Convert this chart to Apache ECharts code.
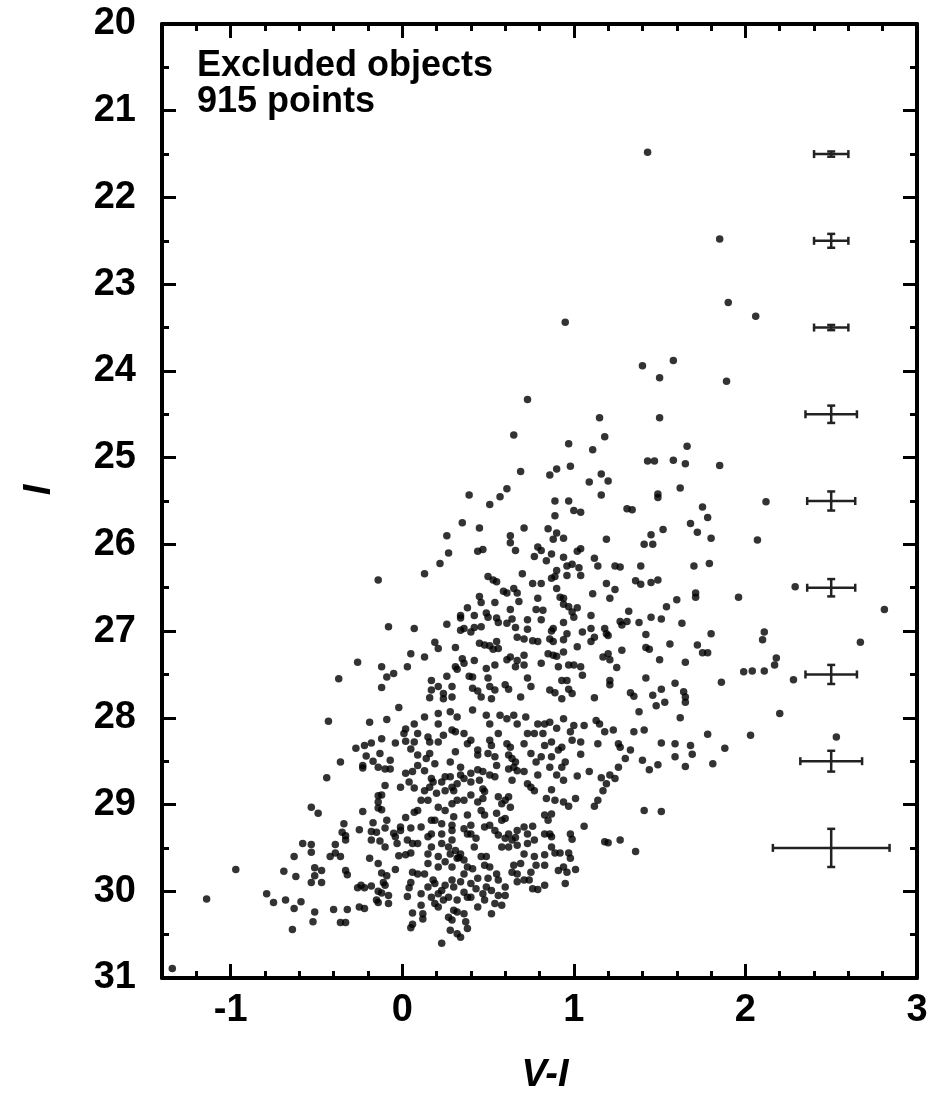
<!DOCTYPE html>
<html>
<head>
<meta charset="utf-8">
<script src="https://cdn.jsdelivr.net/npm/echarts@6.0.0/dist/echarts.min.js"></script>
<style>
html,body{margin:0;padding:0;background:#fff;}
#chart{width:950px;height:1101px;}
</style>
</head>
<body>
<div id="chart"></div>
<script>
// ---- axis ticks ----
const xMajorTicks = [-1, 0, 1, 2, 3];
const xMinorTicks = [-1.2, -0.8, -0.6, -0.4, -0.2, 0.2, 0.4, 0.6, 0.8, 1.2, 1.4, 1.6, 1.8, 2.2, 2.4, 2.6, 2.8];
const yMajorTicks = [20, 21, 22, 23, 24, 25, 26, 27, 28, 29, 30, 31];
const yMinorTicks = [20.5, 21.5, 22.5, 23.5, 24.5, 25.5, 26.5, 27.5, 28.5, 29.5, 30.5];

// ---- annotation ----
const noteLines = ['Excluded objects', '915 points'];
const xTitle = 'V-I';
const yTitle = 'I';

// ---- error bars (V-I, I, xerr, yerr) ----
const ebX = [2.5, 2.5, 2.5, 2.5, 2.5, 2.5, 2.5, 2.5, 2.5];
const ebY = [21.5, 22.5, 23.5, 24.5, 25.5, 26.5, 27.5, 28.5, 29.5];
const ebXErr = [0.10, 0.10, 0.10, 0.15, 0.14, 0.14, 0.15, 0.18, 0.34];
const ebYErr = [0.03, 0.08, 0.03, 0.10, 0.11, 0.10, 0.11, 0.12, 0.22];

// ---- points [V-I, I] ----
const ptsTop = [[1.43,21.48],[0.95,23.44],[1.40,23.94],[1.58,23.88],[1.50,24.08],[0.73,24.33],[1.15,24.54],[1.50,24.54],[1.85,22.48],[1.90,23.21],[2.06,23.37],[1.89,24.12]];

const ptsRight = [[1.66,24.87],[1.65,25.07],[1.85,25.09],[1.62,25.35],[2.12,25.51],[1.75,25.57],[1.78,25.69],[1.68,25.76],[1.72,25.86],[1.80,25.93],[2.07,25.95],[1.70,26.25],[1.79,26.22],[2.29,26.49],[1.71,26.56],[1.71,26.61],[1.96,26.61],[2.81,26.75],[1.63,26.91],[1.80,27.03],[2.11,27.01],[2.10,27.10],[2.67,27.13],[1.72,27.16],[1.75,27.25],[1.78,27.25],[2.18,27.31],[2.17,27.39],[1.65,27.36],[1.99,27.47],[2.04,27.46],[2.11,27.46],[2.28,27.56],[1.86,27.59],[1.64,27.70],[1.65,27.76],
[1.65,27.82],[1.62,28.00],[2.20,27.95],[1.78,28.19],[2.03,28.20],[2.53,28.22],[1.68,28.32],[1.69,28.42],[1.88,28.35],[1.65,28.56],[1.81,28.53]];

const ptsLeft = [[-0.14,26.41],[-0.08,26.95],[0.07,26.97],[0.05,27.26],[-0.26,27.36],[-0.12,27.41],[0.03,27.41],[-0.05,27.49],[-0.09,27.53],[-0.37,27.55],[-0.12,27.65]];

const ptsLowLeft = [[-0.02,27.88],[-0.43,28.04],[-0.19,28.05],[-0.09,28.02],[0.07,28.07],[0.02,28.13],[0.01,28.18],[-0.12,28.24],[-0.04,28.29],[0.02,28.27],[0.07,28.28],
[-0.27,28.35],[-0.22,28.32],[-0.18,28.29],[0.05,28.36],[-0.36,28.51],[-0.21,28.44],[-0.13,28.41],[-0.17,28.50],[-0.07,28.49],[-0.23,28.55],[-0.23,28.58],[-0.14,28.57],[-0.10,28.59],[-0.07,28.59],[-0.44,28.69],[0.02,28.64],[0.06,28.62],[0.04,28.74],[-0.01,28.80],[0.07,28.81],[-0.10,28.78],[-0.14,28.90],[-0.12,28.89],[-0.14,28.97],[-0.14,29.04],[-0.12,29.06],[-0.53,29.03],[-0.49,29.10],[-0.23,29.08],[0.02,29.15],[0.07,29.09],[-0.34,29.22],[-0.25,29.29],[-0.17,29.21],[-0.09,29.18],[-0.01,29.26],[-0.01,29.30],[0.05,29.27],[-0.35,29.32],[-0.33,29.36],[-0.18,29.31],[-0.15,29.32],[-0.10,29.27],[-0.05,29.33],[-0.04,29.37],[-0.18,29.41],[-0.33,29.41],[-0.13,29.42],[-0.58,29.45],[-0.53,29.46],[-0.53,29.55],[-0.39,29.46],[-0.10,29.49],[-0.03,29.45],[0.03,29.41],[0.06,29.45],[-0.63,29.60],[-0.42,29.60],[-0.39,29.56],[-0.36,29.60],[-0.19,29.62],[-0.02,29.59],[0.02,29.58],[0.05,29.56],[-0.14,29.68],[-0.97,29.75],[-0.69,29.77],[-0.51,29.73],[-0.47,29.76],[-0.62,29.83],[-0.51,29.82],[-0.33,29.76],[-0.32,29.81],[-0.12,29.79],[-0.09,29.82],[-0.04,29.75],[0.06,29.78],[-0.53,29.90],[-0.47,29.90],[-0.26,29.96],[-0.24,29.93],[-0.22,29.96],[-0.18,29.94],[-0.11,29.90],[-0.10,29.93],[0.05,29.90],[0.04,29.96],[-0.79,30.03],[-1.14,30.09],[-0.75,30.13],[-0.68,30.10],[-0.59,30.12],[-0.63,30.20],[-0.14,30.00],[-0.12,30.02],[-0.08,30.05],[-0.15,30.10],[-0.14,30.13],[-0.08,30.14],[0.03,30.06],[-0.51,30.24],[-0.40,30.21],[-0.32,30.21],[-0.25,30.18],[-0.22,30.20],[-0.52,30.35],[-0.36,30.36],[-0.33,30.36],[0.06,30.25],[0.06,30.38],[0.05,30.42],[-0.64,30.44],[-1.34,30.89]];

const ptsUpperCore = [[0.65,24.74],[1.18,24.76],[0.97,24.84],[1.11,24.91],[1.43,25.04],[1.47,25.04],[1.58,25.03],[0.98,25.10],[0.90,25.13],[0.86,25.20],[0.69,25.16],[1.16,25.19],[1.20,25.27],[1.09,25.28],[0.39,25.43],[0.57,25.45],[0.61,25.36],[0.51,25.54],[1.16,25.43],[1.49,25.42],[1.49,25.46],[0.89,25.50],[0.97,25.50],[1.00,25.61],[1.04,25.63],[1.31,25.59],[1.34,25.60],[0.89,25.67],[0.35,25.75],[0.45,25.81],[0.71,25.81],[0.85,25.82],[0.26,25.90],[0.63,25.90],[0.63,25.98],[0.90,25.87],[0.88,25.94],[0.94,25.93],[1.19,25.94],[1.52,25.83],[1.45,25.89],[1.41,26.00],[1.46,26.00],[0.44,26.08],[0.47,26.06],[0.66,26.07],[0.27,26.10],[0.79,26.03],[0.81,26.07],[0.77,26.14],[0.87,26.11],[0.84,26.19],[0.94,26.15],[1.02,26.08],[1.04,26.05],[1.12,26.16],[1.14,26.25],[0.96,26.25],[0.99,26.23],[1.03,26.27],[0.90,26.30],[1.24,26.25],[1.27,26.26],[1.39,26.25],[0.22,26.22],[0.13,26.34],[0.70,26.34],[0.96,26.36],[1.04,26.36],[0.87,26.39],[0.89,26.37],[0.50,26.37],[0.53,26.41],[0.55,26.43],[0.76,26.45],[0.81,26.45],[0.90,26.51],[1.19,26.45],[1.24,26.52],[1.36,26.42],[1.39,26.46],[1.45,26.44],[1.49,26.41],[0.59,26.54],[0.61,26.56],[0.65,26.51],[0.67,26.56],[0.45,26.60],[0.46,26.67],[1.11,26.57],[0.92,26.61],[0.94,26.62],[0.79,26.62],[1.21,26.62],[0.68,26.66],[0.54,26.67],[0.38,26.73],[0.94,26.69],[0.97,26.72],[1.02,26.73],[1.54,26.72],[1.60,26.64],[0.63,26.75],[0.78,26.75],[0.82,26.76],[0.99,26.78],[1.00,26.84],[0.34,26.82],[0.34,26.85],[0.42,26.82],[0.49,26.79],[0.50,26.84],[0.55,26.85],[0.56,26.90],[1.32,26.77],[1.45,26.84],[1.51,26.86],[1.10,26.82],[0.61,26.91],[0.64,26.86],[0.73,26.87],[0.81,26.87],[0.94,26.90],[1.27,26.89],[1.28,26.93],[1.31,26.89],[1.38,26.90],[0.26,26.92],[0.34,26.99],[0.36,26.97],[0.40,27.01],[0.42,26.96],[0.46,26.95],[0.66,26.96],[0.73,26.98],[0.87,27.00],[0.88,26.97],[0.96,27.03],[1.05,27.01],[1.10,26.97],[1.18,26.97],[1.19,27.03],[0.67,27.07],[0.71,27.09],[0.76,27.11],[0.79,27.12],[0.86,27.09],[0.88,27.12],[0.94,27.10],[1.12,27.07],[1.10,27.12],[1.20,27.05],[1.42,27.04],[1.56,27.15],[0.19,27.13],[0.21,27.20],[0.31,27.19],[0.45,27.14],[0.48,27.16],[0.51,27.17],[0.55,27.12],[0.56,27.20],[0.53,27.21],[1.02,27.18],[1.28,27.22],[1.42,27.19],[1.44,27.21],[0.13,27.30],[0.35,27.32],[0.36,27.37],[0.42,27.34],[0.49,27.43],[0.54,27.39],[0.61,27.33],[0.63,27.30],[0.67,27.34],[0.71,27.28],[0.66,27.41],[0.71,27.39],[0.81,27.37],[0.85,27.26],[0.88,27.28],[0.90,27.29],[0.94,27.24],[0.91,27.41],[0.97,27.39],[1.00,27.39],[1.04,27.41],[1.17,27.30],[1.21,27.33],[1.20,27.26],[1.25,27.42],[1.50,27.33],[0.31,27.41],[0.32,27.44],[0.39,27.52],[0.41,27.53],[0.50,27.54],[0.26,27.52],[0.17,27.57],[0.73,27.54],[0.93,27.57],[0.96,27.57],[1.05,27.51],[1.21,27.57],[1.42,27.54],[1.59,27.60],[0.17,27.68],[0.21,27.64],[0.24,27.72],[0.29,27.64],[0.29,27.76],[0.41,27.66],[0.44,27.69],[0.51,27.64],[0.54,27.68],[0.60,27.62],[0.62,27.67],[0.75,27.64],[0.86,27.68],[0.89,27.71],[0.97,27.67],[0.99,27.72],[1.12,27.77],[1.21,27.62],[1.33,27.71],[1.35,27.75],[1.46,27.74],[1.51,27.67],[0.16,27.77],[0.24,27.78],[0.46,27.76],[0.52,27.78],[0.69,27.76],[0.93,27.78]];

const ptsLowerCore = [[1.38,27.93],[1.48,27.86],[1.53,27.82],[1.35,28.16],[1.41,28.14],[1.51,28.29],[1.59,28.30],[1.59,28.45],[1.26,28.30],[1.27,28.34],[1.33,28.37],[1.30,28.47],[1.40,28.49],[1.44,28.60],[1.49,28.54],[1.26,28.57],[1.21,28.66],[1.24,28.70],[1.16,28.69],[1.19,28.76],[1.17,28.84],[1.14,28.95],[1.12,29.02],[1.41,29.07],[1.51,29.08],[1.06,29.25],[1.18,29.43],[1.20,29.44],[1.27,29.41],[1.36,29.54],[1.09,28.62],[1.02,28.67],[1.01,28.93],[1.04,28.42],[1.04,28.28],[1.14,28.30],[1.15,28.07],[1.23,28.14],[1.18,28.16],[1.13,28.03],[1.06,28.09],[1.00,28.09],[0.98,28.16],[0.99,28.26],[0.93,28.34],[0.91,28.37],[0.95,28.51],[0.93,28.57],[0.90,28.66],[0.94,28.72],[0.87,28.83],[0.84,28.93],[0.89,28.95],[0.94,28.97],[0.97,29.02],[0.87,29.11],[0.83,29.12],[0.85,29.18],[0.86,29.34],[0.87,29.37],[0.83,29.34],[0.76,29.25],[0.71,29.26],[0.98,29.34],[0.99,29.40],[0.89,29.56],[0.92,29.56],[0.97,29.56],[0.94,29.72],[0.96,29.78],[1.01,29.75],[0.95,29.91],[0.83,29.70],[0.77,29.60],[0.78,29.70],[0.75,29.78],[0.74,29.87],[0.76,29.97],[0.79,29.98],[0.83,29.93],[0.69,29.68],[0.65,29.70],[0.64,29.78],[0.67,29.80],[0.71,29.57],[0.67,29.47],[0.66,29.38],[0.62,29.34],[0.60,29.39],[0.58,29.49],[0.56,29.35],[0.55,29.80],[0.56,29.87],[0.50,29.85],[0.49,29.95],[0.52,29.99],[0.56,30.05],[0.60,30.05],[0.58,30.16],[0.51,29.72],[0.49,29.60],[0.48,29.70],[0.44,29.85],[0.43,29.97],[0.40,30.07],[0.38,30.07],[0.44,30.18],[0.52,30.26],[0.38,30.43],[0.34,30.53],[0.32,30.49],[0.29,30.33],[0.27,30.30],[0.23,30.60],[0.12,30.32],[0.11,30.16],[0.30,30.22],[0.32,30.24],[0.36,30.26],[0.24,30.10],[0.21,30.03],[0.23,29.99],[0.17,30.07],[0.15,29.95],[0.18,29.87],[0.19,29.91],[0.13,29.80],[0.09,29.80],[0.25,29.93],[0.29,29.87],[0.30,29.95],[0.36,29.80],[0.38,29.72],[0.41,29.74],[0.36,29.64],[0.32,29.62],[0.29,29.72],[0.25,29.66],[0.21,29.60],[0.15,29.57],[0.17,29.49],[0.23,29.45],[0.27,29.49],[0.28,29.57],[0.31,29.53],[0.33,29.61],[0.34,29.57],[0.42,29.49],[0.46,29.60],[0.43,29.39],[0.38,29.34],[0.40,29.34],[0.36,29.28],[0.29,29.30],[0.23,29.34],[0.17,29.34],[0.15,29.37],[0.09,29.45],[0.11,29.26],[0.17,29.18],[0.19,29.18],[0.23,29.22],[0.29,29.24],[0.30,29.14],[0.38,29.12],[0.40,29.24],[0.48,29.26],[0.51,29.24],[0.54,29.30],[0.58,29.18],[0.60,29.16],[0.55,29.10],[0.48,29.12],[0.46,29.07],[0.44,28.97],[0.47,28.93],[0.40,28.89],[0.36,28.95],[0.32,28.95],[0.29,28.99],[0.25,29.07],[0.21,29.03],[0.15,28.95],[0.11,28.95],[0.09,29.07],[0.13,28.84],[0.16,28.80],[0.20,28.87],[0.25,28.84],[0.29,28.80],[0.23,28.74],[0.25,28.68],[0.17,28.70],[0.18,28.74],[0.13,28.61],[0.09,28.55],[0.19,28.53],[0.28,28.68],[0.34,28.66],[0.36,28.70],[0.40,28.64],[0.44,28.60],[0.47,28.62],[0.45,28.72],[0.51,28.66],[0.54,28.68],[0.56,28.91],[0.60,28.95],[0.62,28.91],[0.58,28.99],[0.63,29.03],[0.64,28.72],[0.62,28.59],[0.65,28.57],[0.67,28.61],[0.71,28.62],[0.73,28.76],[0.75,28.80],[0.77,28.84],[0.79,28.66],[0.78,28.51],[0.81,28.45],[0.86,28.57],[0.87,28.45],[0.75,28.41],[0.71,28.30],[0.73,28.18],[0.77,28.18],[0.82,28.18],[0.87,28.28],[0.83,28.32],[0.90,28.12],[0.94,28.01],[0.86,28.05],[0.83,28.07],[0.79,28.07],[0.72,27.99],[0.67,28.07],[0.65,27.97],[0.61,28.01],[0.57,27.97],[0.51,28.07],[0.49,27.97],[0.41,27.91],[0.32,27.99],[0.28,27.93],[0.21,27.95],[0.21,28.07],[0.13,27.99],[0.09,28.18],[0.15,28.22],[0.16,28.28],[0.21,28.28],[0.24,28.20],[0.29,28.14],[0.31,28.16],[0.36,28.18],[0.40,28.26],[0.38,28.30],[0.51,28.26],[0.52,28.32],[0.56,28.18],[0.61,28.30],[0.63,28.34],[0.62,28.43],[0.64,28.47],[0.66,28.51],[0.54,28.45],[0.55,28.55],[0.44,28.37],[0.44,28.43],[0.50,28.41],[0.31,28.39],[0.28,28.51],[0.16,28.41],[0.14,28.47],[0.09,28.43],[0.34,28.57],[0.40,28.74],[0.30,28.84],[0.32,28.76],[0.47,28.82],[0.48,28.85],[0.67,29.89],[0.71,29.87],[0.62,29.49],[0.64,29.41],[0.73,29.34],[0.73,29.45],[0.67,29.30],[0.83,29.58],[0.87,29.49],[0.77,29.41],[0.98,29.62],[0.91,29.76],[0.29,29.41],[0.21,29.72],[0.15,29.68],[0.19,30.14],[0.21,30.18],[0.27,30.07],[0.32,30.10],[0.36,30.01],[0.40,29.91],[0.34,29.89],[0.48,30.10],[0.47,30.03],[0.54,30.14],[0.60,29.95],[0.37,30.35],[0.28,30.45],[0.11,30.03],[0.12,30.26]];

// ---- build ----
const allPoints = [].concat(ptsTop, ptsRight, ptsLeft, ptsLowLeft, ptsUpperCore, ptsLowerCore);
const errData = ebX.map((x, i) => [x, ebY[i], ebXErr[i], ebYErr[i]]);

const FONT = '"Liberation Sans", Arial, Helvetica, sans-serif';
const black = '#000';
const X_MIN = -1.4, X_MAX = 3, Y_MIN = 20, Y_MAX = 31;

function xAx(pos, major, showLine) {
  return {
    type: 'value', position: pos, min: X_MIN, max: X_MAX,
    axisLine: { show: showLine, onZero: false, lineStyle: { color: black, width: 4 } },
    splitLine: { show: false },
    axisTick: { show: true, inside: true, length: major ? 14 : 7,
      customValues: major ? xMajorTicks : xMinorTicks,
      lineStyle: { color: black, width: 3 } },
    axisLabel: (pos === 'bottom' && major) ? {
      show: true, customValues: xMajorTicks, margin: 14,
      fontSize: 38, fontWeight: 'bold', color: black, fontFamily: FONT
    } : { show: false }
  };
}
function yAx(pos, major, showLine) {
  return {
    type: 'value', position: pos, min: Y_MIN, max: Y_MAX, inverse: true,
    axisLine: { show: showLine, onZero: false, lineStyle: { color: black, width: 4 } },
    splitLine: { show: false },
    axisTick: { show: true, inside: true, length: major ? 14 : 7,
      customValues: major ? yMajorTicks : yMinorTicks,
      lineStyle: { color: black, width: 3 } },
    axisLabel: (pos === 'left' && major) ? {
      show: true, customValues: yMajorTicks, margin: 26,
      fontSize: 38, fontWeight: 'bold', color: black, fontFamily: FONT
    } : { show: false }
  };
}

const chart = echarts.init(document.getElementById('chart'), null, { renderer: 'canvas' });
chart.setOption({
  animation: false,
  backgroundColor: '#fff',
  grid: { left: 162, right: 33, top: 24, bottom: 123, containLabel: false },
  xAxis: [xAx('bottom', true, true), xAx('bottom', false, false), xAx('top', true, true), xAx('top', false, false)],
  yAxis: [yAx('left', true, true), yAx('left', false, false), yAx('right', true, true), yAx('right', false, false)],
  graphic: [
    { type: 'text', left: 197, top: 48, style: { text: noteLines[0], font: 'bold 36px ' + FONT, fill: black } },
    { type: 'text', left: 197, top: 84, style: { text: noteLines[1], font: 'bold 36px ' + FONT, fill: black } },
    { type: 'text', x: 545, y: 1076, style: { text: xTitle, font: 'italic bold 38px ' + FONT, fill: black, align: 'center', verticalAlign: 'middle' } },
    { type: 'text', x: 40, y: 490, rotation: Math.PI / 2, style: { text: yTitle, font: 'italic bold 38px ' + FONT, fill: black, align: 'center', verticalAlign: 'middle' } }
  ],
  series: [
    {
      type: 'scatter', xAxisIndex: 0, yAxisIndex: 0,
      data: allPoints, symbol: 'circle', symbolSize: 7.5,
      itemStyle: { color: black }, z: 3
    },
    {
      type: 'custom', xAxisIndex: 0, yAxisIndex: 0, data: errData, z: 4,
      renderItem: function (params, api) {
        const x = api.value(0), y = api.value(1), ex = api.value(2), ey = api.value(3);
        const l = api.coord([x - ex, y]), r = api.coord([x + ex, y]);
        const t = api.coord([x, y - ey]), b = api.coord([x, y + ey]);
        const cap = 4;
        const st = { stroke: '#222', lineWidth: 2.5 };
        return { type: 'group', children: [
          { type: 'line', shape: { x1: l[0], y1: l[1], x2: r[0], y2: r[1] }, style: st },
          { type: 'line', shape: { x1: l[0], y1: l[1] - cap, x2: l[0], y2: l[1] + cap }, style: st },
          { type: 'line', shape: { x1: r[0], y1: r[1] - cap, x2: r[0], y2: r[1] + cap }, style: st },
          { type: 'line', shape: { x1: t[0], y1: t[1], x2: b[0], y2: b[1] }, style: st },
          { type: 'line', shape: { x1: t[0] - cap, y1: t[1], x2: t[0] + cap, y2: t[1] }, style: st },
          { type: 'line', shape: { x1: b[0] - cap, y1: b[1], x2: b[0] + cap, y2: b[1] }, style: st }
        ] };
      }
    }
  ]
});
</script>
</body>
</html>
